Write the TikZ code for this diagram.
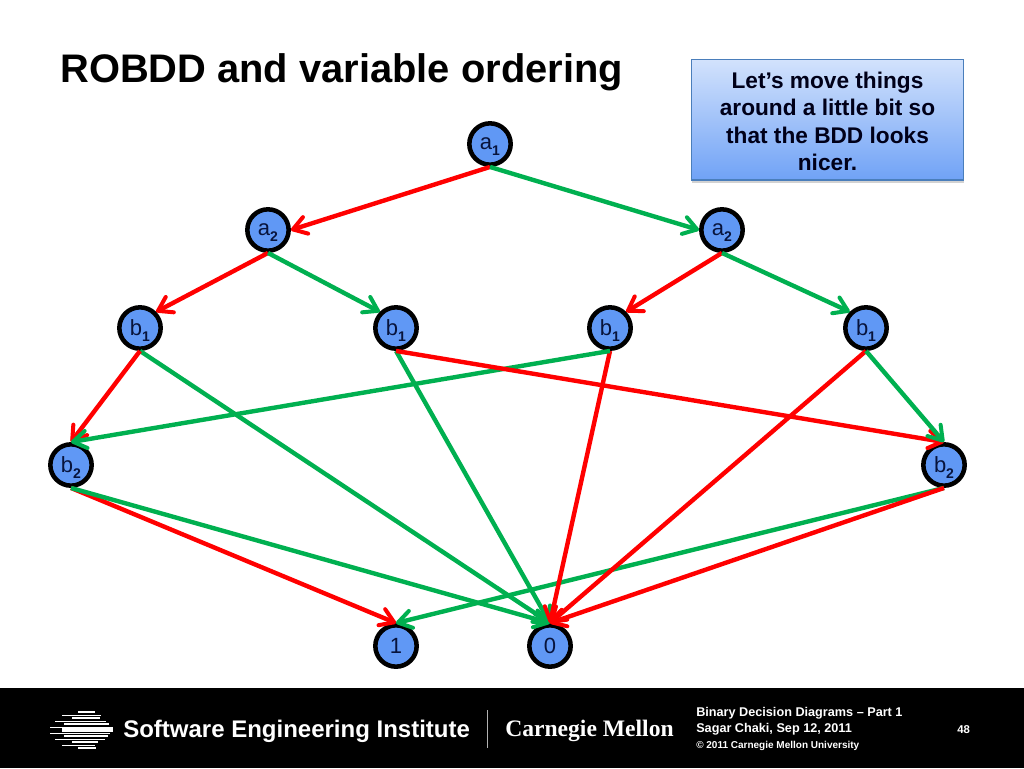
\documentclass[tikz,border=0pt]{standalone}
\usepackage{fontspec}
\setmainfont{Liberation Sans}
\newfontfamily\cmufont{Liberation Serif}
\usetikzlibrary{arrows.meta,shadows}
\definecolor{edgered}{RGB}{255,0,0}
\definecolor{edgegreen}{RGB}{0,176,80}
\definecolor{nodeblue}{RGB}{96,152,245}
\definecolor{nodetext}{RGB}{8,20,60}
\definecolor{boxedge}{RGB}{74,126,187}
\pgfdeclarearrow{
  name=OpenVee,
  setup code={
    \pgfarrowssettipend{1.5pt}
    \pgfarrowssetlineend{0pt}
    \pgfarrowssetvisualbackend{-10pt}
    \pgfarrowshullpoint{1.5pt}{0pt}
    \pgfarrowsupperhullpoint{-10pt}{7pt}
  },
  drawing code={
    \pgfsetlinewidth{3pt}
    \pgfsetroundjoin
    \pgfsetroundcap
    \pgfpathmoveto{\pgfpoint{-10pt}{6.5pt}}
    \pgfpathlineto{\pgfpointorigin}
    \pgfpathlineto{\pgfpoint{-10pt}{-6.5pt}}
    \pgfusepathqstroke
  }
}
\tikzset{
  x=0.75pt,y=-0.75pt,
  bdd/.style={circle,draw=black,line width=3.4pt,fill=nodeblue,minimum size=31pt,inner sep=0pt,text=nodetext,font=\fontsize{16.5}{18}\selectfont},
  redge/.style={draw=edgered,line width=3.3pt,-{OpenVee}},
  gedge/.style={draw=edgegreen,line width=3.3pt,-{OpenVee}},
  foot/.style={text=white,anchor=west,inner sep=0pt,font=\bfseries\fontsize{9.5}{11}\selectfont},
}
\newcommand{\subnum}[1]{\smash{\raisebox{-0.5ex}{\fontsize{10.5}{12}\selectfont\bfseries #1}}}
\begin{document}
\begin{tikzpicture}
\useasboundingbox (0,0) rectangle (1024,768);
\fill[white] (0,0) rectangle (1024,768);
\fill[black] (0,688) rectangle (1024,768);

\node[anchor=west,inner sep=0pt,font=\bfseries\fontsize{29.9}{32}\selectfont] (title) at (60,72) {ROBDD and variable ordering};

\node[draw=boxedge,line width=1pt,top color=nodeblue!28!white,bottom color=nodeblue!90!white,
  minimum width=204pt,minimum height=90.5pt,align=center,inner sep=0pt,
  drop shadow={shadow xshift=0pt,shadow yshift=-2pt,opacity=0.35},
  font=\bfseries\fontsize{17}{20.6}\selectfont,text=black!90!blue] (note) at (827.5,119.5)
  {\raisebox{0pt}[\dimexpr\height+3pt]{Let’s move things}\\around a little bit so\\that the BDD looks\\nicer.};

\node[bdd] (a1) at (490,144) {a\subnum{1}};
\node[bdd] (a2l) at (268,230) {a\subnum{2}};
\node[bdd] (a2r) at (722,230) {a\subnum{2}};
\node[bdd] (b1a) at (140,328) {b\subnum{1}};
\node[bdd] (b1b) at (396,328) {b\subnum{1}};
\node[bdd] (b1c) at (610,328) {b\subnum{1}};
\node[bdd] (b1d) at (866,328) {b\subnum{1}};
\node[bdd] (b2l) at (71,465) {b\subnum{2}};
\node[bdd] (b2r) at (944,465) {b\subnum{2}};
\node[bdd] (one) at (396,646) {1};
\node[bdd] (zero) at (550,646) {0};

\draw[redge] (b2l.south) -- (one.north);
\draw[gedge] (b2r.south) -- (one.north);
\draw[gedge] (b2l.south) -- (zero.north);
\draw[gedge] (b1a.south) -- (zero.north);
\draw[gedge] (b1b.south) -- (zero.north);
\draw[redge] (b1c.south) -- (zero.north);
\draw[redge] (b1d.south) -- (zero.north);
\draw[redge] (b2r.south) -- (zero.north);
\draw[redge] (a1.south) -- (a2l.east);
\draw[gedge] (a1.south) -- (a2r.west);
\draw[redge] (a2l.south) -- (b1a.north east);
\draw[gedge] (a2l.south) -- (b1b.north west);
\draw[redge] (a2r.south) -- (b1c.north east);
\draw[gedge] (a2r.south) -- (b1d.north west);
\draw[redge] (b1a.south) -- (b2l.north);
\draw[gedge] (b1c.south) -- (b2l.north);
\draw[redge] (b1b.south) -- (b2r.north);
\draw[gedge] (b1d.south) -- (b2r.north);

% logo
\foreach \yy/\xa/\xb/\ww in {
  712/78/95/1.8, 715/62/101/0.7, 718/72/100/2.2, 721/55/106/0.7, 724/64/109/2.2,
  727/50/113/0.7, 730/62/113/2.6, 733/50/110/0.7, 736/64/108/2.2, 739/55/105/0.7,
  742/72/98/2.2, 745/62/95/0.7, 747.5/78/96/1.5}{
  \draw[white,line width=\ww pt] (\xa,\yy) -- (\xb,\yy);
}
\node[foot,font=\bfseries\fontsize{18}{20}\selectfont] (sei) at (123,731) {Software Engineering Institute};
\draw[white!70!black,line width=0.6pt] (487,710) -- (487,748);
\node[foot,font=\cmufont\bfseries\fontsize{17.7}{20}\selectfont] (cmu) at (505,731) {Carnegie Mellon};
\node[foot] (f1) at (696,713) {Binary Decision Diagrams – Part 1};
\node[foot] (f2) at (696,729) {Sagar Chaki, Sep 12, 2011};
\node[foot,font=\bfseries\fontsize{7.5}{8}\selectfont] (f3) at (696,745.5) {© 2011 Carnegie Mellon University};
\node[foot,font=\bfseries\fontsize{8.5}{9}\selectfont] (pg) at (957,730) {48};
\end{tikzpicture}
\end{document}
